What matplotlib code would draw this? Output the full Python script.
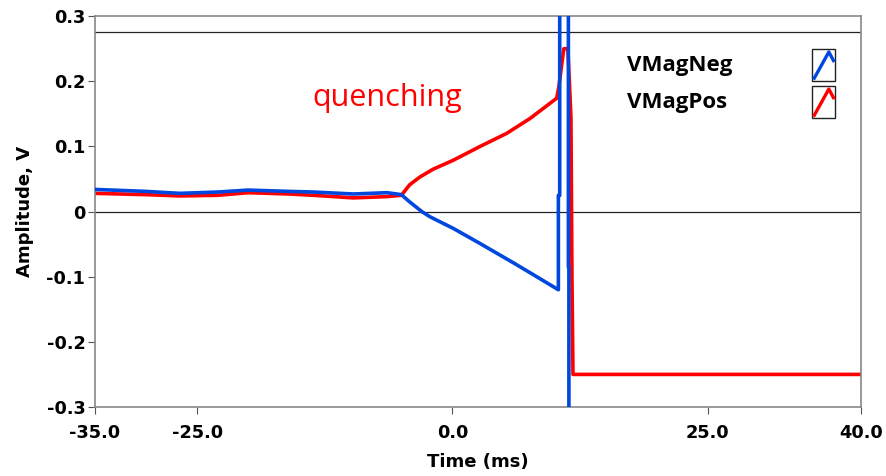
import matplotlib
matplotlib.use("Agg")
import matplotlib.pyplot as plt
from matplotlib.lines import Line2D
from matplotlib.patches import Rectangle

plt.rcParams['font.family'] = ['DejaVu Sans']

# Time (ms) and amplitude (V)
t_neg = [-35.0, -30.0, -26.7, -23.0, -20.0, -16.0, -13.6, -9.7, -6.4, -5.0,
         -4.2, -3.0, -2.2, 0.1, 2.7, 6.0, 8.25, 10.37, 10.37, 10.5, 10.5,
         11.35, 11.35, 11.4, 11.4]
v_neg = [0.034, 0.031, 0.028, 0.030, 0.033, 0.031, 0.030, 0.027, 0.029, 0.026,
         0.015, 0.000, -0.008, -0.026, -0.049, -0.079, -0.100, -0.120, 0.025, 0.025, 0.40,
         0.40, -0.085, -0.085, -0.40]

t_pos = [-35.0, -30.0, -26.7, -23.0, -20.0, -16.0, -13.6, -9.7, -6.4, -5.0,
         -4.2, -3.2, -1.9, 0.1, 2.7, 5.3, 7.6, 10.2, 10.4, 10.9,
         11.3, 11.6, 11.7, 11.8, 40.0]
v_pos = [0.028, 0.026, 0.024, 0.025, 0.029, 0.027, 0.025, 0.021, 0.023, 0.025,
         0.041, 0.053, 0.065, 0.079, 0.100, 0.120, 0.143, 0.174, 0.19, 0.25,
         0.25, 0.145, -0.10, -0.25, -0.25]

ref_lines = [0.0, 0.275]
x_ticks = [-35.0, -25.0, 0.0, 25.0, 40.0]
y_ticks = [-0.3, -0.2, -0.1, 0.0, 0.1, 0.2, 0.3]
y_labels = ['-0.3', '-0.2', '-0.1', '0', '0.1', '0.2', '0.3']
series_names = ['VMagNeg', 'VMagPos']
series_colors = ['#0047e0', '#ff0000']

fig = plt.figure(figsize=(8.86, 4.76), dpi=100)
ax = fig.add_axes([0.1072, 0.145, 0.8646, 0.821])

for y in ref_lines:
    ax.axhline(y, color='#222222', lw=0.9, zorder=1)

ax.plot(t_pos, v_pos, color=series_colors[1], lw=2.6, zorder=2,
        solid_joinstyle='round')
ax.plot(t_neg, v_neg, color=series_colors[0], lw=2.6, zorder=3,
        solid_joinstyle='round')

ax.set_xlim(-35, 40)
ax.set_ylim(-0.3, 0.3)
ax.set_xticks(x_ticks)
ax.set_xticklabels([f'{v:.1f}' for v in x_ticks])
ax.set_yticks(y_ticks)
ax.set_yticklabels(y_labels)
for lab in ax.get_xticklabels() + ax.get_yticklabels():
    lab.set_fontweight('bold')
    lab.set_fontsize(12.8)
ax.tick_params(axis='both', length=5, width=0.8, color='#555555')
ax.tick_params(axis='x', pad=7)
ax.tick_params(axis='y', pad=2)
ax.set_xlabel('Time (ms)', fontsize=13, fontweight='bold', labelpad=8)
ax.set_ylabel('Amplitude, V', fontsize=13, fontweight='bold', labelpad=9)
for s in ax.spines.values():
    s.set_color('#888888')
    s.set_linewidth(1.2)

ax.text(0.284, 0.79, 'quenching', transform=ax.transAxes, color='#ff0000',
        fontsize=22, ha='left', va='center', family='Open Sans')

# legend
leg_y = [0.875, 0.78]
for name, col, yy in zip(series_names, series_colors, leg_y):
    ax.text(0.695, yy, name, transform=ax.transAxes, fontsize=16,
            fontweight='bold', ha='left', va='center', family='Open Sans')
    bx, bw, bh = 0.936, 0.030, 0.083
    ax.add_patch(Rectangle((bx, yy - bh / 2), bw, bh, transform=ax.transAxes,
                           fill=False, ec='#222222', lw=1.0, zorder=5))
    ax.add_line(Line2D([bx + 0.003, bx + 0.022, bx + 0.028],
                       [yy - bh / 2 + 0.008, yy + bh / 2 - 0.008, yy + bh / 2 - 0.03],
                       transform=ax.transAxes, color=col, lw=2.4, zorder=6))

fig.savefig('out.png', dpi=100)
